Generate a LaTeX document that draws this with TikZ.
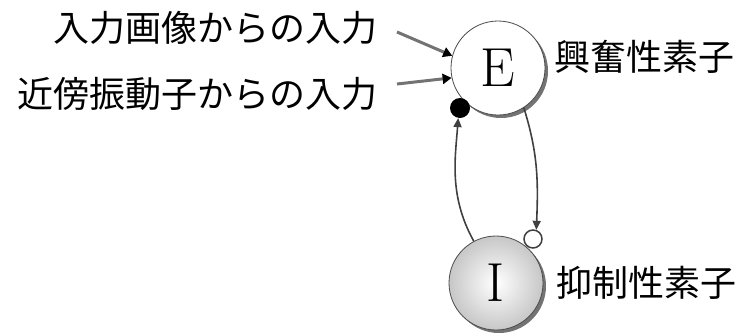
\documentclass[tikz,border=0pt]{standalone}
\usepackage{fontspec}
\newfontfamily\jp{Noto Sans CJK JP}
\usetikzlibrary{arrows.meta,shadings}
\begin{document}
\begin{tikzpicture}[x=1pt,y=-1pt,
  neuron/.style={circle,minimum size=94pt,inner sep=0pt,draw=black!70,line width=0.8pt},
  shadowc/.style={circle,minimum size=94pt,inner sep=0pt,fill=black!55},
  lbl/.style={font=\jp\fontsize{36}{40}\selectfont,inner sep=0pt},
  letter/.style={font=\fontsize{55}{60}\selectfont},
  conn/.style={draw=black!75,line width=1.6pt,-{Triangle[length=9pt,width=8pt]}},
  inarr/.style={draw=black!55,line width=3pt,-{Triangle[length=9pt,width=10pt,fill=black,color=black]}}
]
\useasboundingbox (0,0) rectangle (739,333);
% shadows
\node[shadowc] at (501,71) {};
\node[shadowc] at (499,286) {};
\node[neuron,fill=white] (E) at (498,68) {};
\node[neuron,inner color=white,outer color=black!22] (I) at (496,283) {};
\node[letter] at (E) {E};
\node[letter] at (I) {I};
% dots
\node[circle,fill=black,minimum size=20pt,inner sep=0pt] (bd) at (460,108) {};
\node[circle,fill=white,draw=black!75,line width=1.5pt,minimum size=18pt,inner sep=0pt] (wd) at (533,239) {};
% connectors
\draw[conn] (I.118) .. controls +(-25,-45) and +(-3,40) .. (bd.-100);
\draw[conn] (E.-57) .. controls +(14,45) and +(2,-50) .. (wd.70);
% inputs
\coordinate (s1) at (397,32);
\coordinate (s2) at (397,84);
\draw[inarr] (s1) -- (E.165);
\draw[inarr] (s2) -- (E.192);
% labels
\node[lbl,anchor=east] (t1) at (378,28) {入力画像からの入力};
\node[lbl,anchor=east] (t2) at (378,94) {近傍振動子からの入力};
\node[lbl,anchor=west] (t3) at (554,57) {興奮性素子};
\node[lbl,anchor=west] (t4) at (556,283) {抑制性素子};
\end{tikzpicture}
\end{document}
